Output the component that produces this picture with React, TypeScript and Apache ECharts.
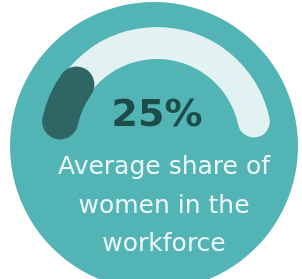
import React, { useEffect, useRef } from "react";
import * as echarts from "echarts";

const shareValue = 25;
const scaleMin = 0;
const scaleMax = 166;
const subtitleLines = ["Average share of", "women in the", "workforce"];

export default function App() {
  const ref = useRef<HTMLDivElement>(null);
  useEffect(() => {
    if (!ref.current) return;
    const chart = echarts.init(ref.current, null, { renderer: "svg" });
    const lineYs = [165, 204, 242];
    const common = {
      type: "gauge",
      center: [157, 142],
      startAngle: 168,
      endAngle: 12,
      min: scaleMin,
      max: scaleMax,
      axisTick: { show: false },
      splitLine: { show: false },
      axisLabel: { show: false },
      pointer: { show: false },
      anchor: { show: false },
      title: { show: false },
    };
    chart.setOption({
      animation: false,
      graphic: [
        {
          type: "circle",
          z: -10,
          shape: { cx: 154, cy: 146, r: 144 },
          style: { fill: "#52b4b4" },
        },
        ...subtitleLines.map((t, i) => ({
          type: "text",
          z: 10,
          x: 164,
          y: lineYs[i],
          style: {
            text: t,
            fill: "#ecf7f7",
            font: "25px 'DejaVu Sans'",
            textAlign: "center",
            textVerticalAlign: "middle",
          },
        })),
      ],
      series: [
        {
          ...common,
          radius: 115,
          z: 1,
          progress: { show: false },
          axisLine: {
            roundCap: true,
            lineStyle: { width: 32, color: [[1, "#e2f1f1"]] },
          },
          detail: { show: false },
          data: [{ value: shareValue }],
        },
        {
          ...common,
          radius: 117,
          z: 2,
          progress: {
            show: true,
            width: 36,
            roundCap: true,
            itemStyle: { color: "#2f6664" },
          },
          axisLine: { show: false, lineStyle: { width: 36 } },
          detail: {
            valueAnimation: false,
            offsetCenter: [0, -29],
            formatter: "{value}%",
            color: "#1d4c4b",
            fontSize: 38,
            fontWeight: "bold",
            fontFamily: "DejaVu Sans",
          },
          data: [{ value: shareValue }],
        },
      ],
    });
    return () => chart.dispose();
  }, []);
  return (
    <div
      ref={ref}
      style={{ position: "fixed", left: 0, top: 0, width: 302, height: 279 }}
    />
  );
}
